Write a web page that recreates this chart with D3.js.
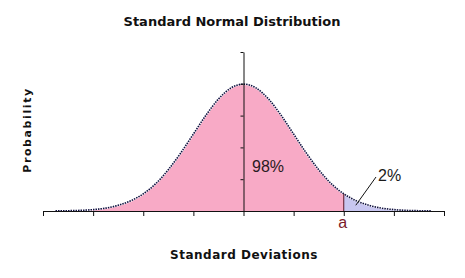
<!DOCTYPE html>
<html>
<head>
<meta charset="utf-8">
<script src="https://cdn.jsdelivr.net/npm/d3@7"></script>
<style>
  body { margin: 0; background: #fff; }
  svg { display: block; }
  .title, .axis-label { font-family: 'DejaVu Sans', Verdana, sans-serif; font-weight: bold; fill: #111; }
  .note { font-family: 'Liberation Sans', Arial, sans-serif; }
</style>
</head>
<body>
<div id="chart"></div>
<script>
// Standard deviations (x) and probability density
const deviations = [-3.75, -3.5, -3.25, -3, -2.75, -2.5, -2.25, -2, -1.75, -1.5, -1.25, -1, -0.75, -0.5, -0.25,
  0, 0.25, 0.5, 0.75, 1, 1.25, 1.5, 1.75, 2, 2.25, 2.5, 2.75, 3, 3.25, 3.5, 3.75];
const density = [0.0004, 0.0009, 0.002, 0.0044, 0.009, 0.018, 0.032, 0.054, 0.086, 0.130, 0.183, 0.242, 0.301, 0.352, 0.387,
  0.399, 0.387, 0.352, 0.301, 0.242, 0.183, 0.130, 0.086, 0.054, 0.032, 0.018, 0.009, 0.0044, 0.002, 0.0009, 0.0004];
const cutoff = 2;
const xTicks = [-4, -3, -2, -1, 0, 1, 2, 3, 4];
const yTicks = [0.1, 0.2, 0.3, 0.4, 0.5];
const shareLabels = ['98%', '2%'];

const width = 465, height = 278;
const margin = { top: 52, right: 21, bottom: 67, left: 43 };

let svg = d3.select('#chart')
            .append('svg')
            .attr('width', width)
            .attr('height', height);

let x = d3.scaleLinear()
          .domain([-4, 4])
          .range([margin.left, width - margin.right]);

let y = d3.scaleLinear()
          .domain([0, 0.5])
          .range([height - margin.bottom, margin.top]);

let points = deviations.map((d, i) => ({ x: d, p: density[i] }));

let area = d3.area()
             .x(d => x(d.x))
             .y0(y(0))
             .y1(d => y(d.p))
             .curve(d3.curveMonotoneX);

// Left part (below a) in pink, right tail in lavender
svg.append('path')
   .datum(points.filter(d => d.x <= cutoff))
   .attr('d', area)
   .attr('fill', '#f8aac6');

svg.append('path')
   .datum(points.filter(d => d.x >= cutoff))
   .attr('d', area)
   .attr('fill', '#c8c6f0');

let line = d3.line()
             .x(d => x(d.x))
             .y(d => y(d.p))
             .curve(d3.curveMonotoneX);

svg.append('path')
   .datum(points)
   .attr('d', line)
   .attr('fill', 'none')
   .attr('stroke', '#fff')
   .attr('stroke-width', 2);

svg.append('path')
   .datum(points)
   .attr('d', line)
   .attr('fill', 'none')
   .attr('stroke', '#101040')
   .attr('stroke-width', 1.6)
   .attr('stroke-dasharray', '1.5,1');

// Vertical line at a
let cutoffP = density[deviations.indexOf(cutoff)];
svg.append('line')
   .attr('x1', x(cutoff))
   .attr('x2', x(cutoff))
   .attr('y1', y(0))
   .attr('y2', y(cutoffP))
   .attr('stroke', '#5a1020')
   .attr('stroke-width', 1);

// X axis
let xAxis = svg.append('g')
               .attr('transform', `translate(0, ${y(0)})`)
               .call(d3.axisBottom(x)
                       .tickValues(xTicks)
                       .tickSize(5)
                       .tickSizeOuter(0)
                       .tickFormat(''));
xAxis.selectAll('line, path').attr('stroke', '#111');

// Y axis through the mean
let yAxis = svg.append('g')
               .attr('transform', `translate(${x(0)}, 0)`)
               .call(d3.axisLeft(y)
                       .tickValues(yTicks)
                       .tickSize(3)
                       .tickSizeOuter(0)
                       .tickFormat(''));
yAxis.selectAll('line, path').attr('stroke', '#111');

// Labels
svg.append('text')
   .attr('class', 'title')
   .attr('x', 232)
   .attr('y', 26)
   .attr('text-anchor', 'middle')
   .style('font-size', '13px')
   .text('Standard Normal Distribution');

svg.append('text')
   .attr('class', 'axis-label')
   .attr('x', 244)
   .attr('y', 259)
   .attr('text-anchor', 'middle')
   .style('font-size', '12px')
   .style('letter-spacing', '0.5px')
   .text('Standard Deviations');

svg.append('text')
   .attr('class', 'axis-label')
   .attr('transform', 'translate(31, 130) rotate(-90)')
   .attr('text-anchor', 'middle')
   .style('font-size', '11px')
   .style('letter-spacing', '1.6px')
   .text('Probability');

svg.append('text')
   .attr('class', 'note')
   .attr('x', 252)
   .attr('y', 172)
   .style('font-size', '16px')
   .attr('fill', '#2a1a22')
   .text(shareLabels[0]);

svg.append('text')
   .attr('class', 'note')
   .attr('x', 378)
   .attr('y', 181)
   .style('font-size', '16px')
   .attr('fill', '#1a1a1a')
   .text(shareLabels[1]);

svg.append('line')
   .attr('x1', x(cutoff + 0.24))
   .attr('y1', y(0.018))
   .attr('x2', 376)
   .attr('y2', 177)
   .attr('stroke', '#111')
   .attr('stroke-width', 1);

svg.append('text')
   .attr('class', 'note')
   .attr('x', x(cutoff) - 1)
   .attr('y', 228)
   .attr('text-anchor', 'middle')
   .style('font-size', '16px')
   .attr('fill', '#7a1a2a')
   .text('a');
</script>
</body>
</html>
